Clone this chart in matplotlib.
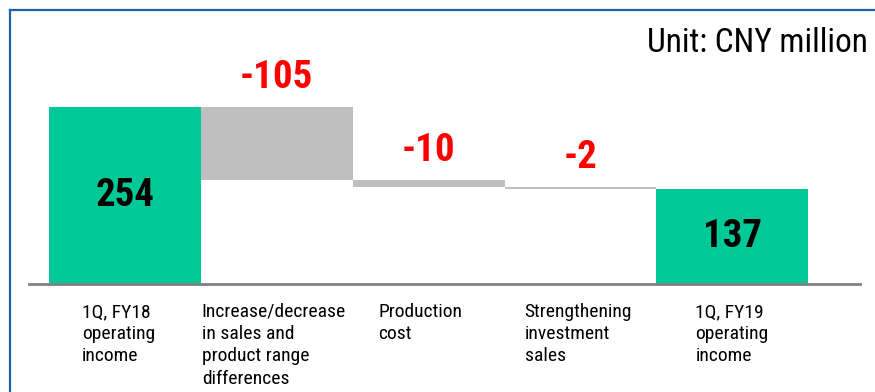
import matplotlib
matplotlib.use("Agg")
import matplotlib.pyplot as plt
from matplotlib.lines import Line2D
import logging
logging.getLogger("matplotlib.font_manager").setLevel(logging.ERROR)

categories = ["1Q, FY18\noperating\nincome",
              "Increase/decrease\nin sales and\nproduct range\ndifferences",
              "Production\ncost",
              "Strengthening\ninvestment\nsales",
              "1Q, FY19\noperating\nincome"]
values = [254, -105, -10, -2, 137]
is_total = [True, False, False, False, True]
value_labels = ["254", "-105", "-10", "-2", "137"]
unit_text = "Unit: CNY million"

FONT = ["Roboto Condensed", "Archivo Narrow", "Asap Condensed", "DejaVu Sans"]

GREEN = "#00C896"
GRAY = "#BFBFBF"
RED = "#FF0000"
BLUE = "#2260A8"

W, H = 875, 392
fig = plt.figure(figsize=(W / 100, H / 100), dpi=100)
ax = fig.add_axes([29 / W, (H - 284) / H, (860 - 29) / W, (284 - 10) / H])

running = 0
bottoms, heights = [], []
for v, tot in zip(values, is_total):
    if tot:
        bottoms.append(0)
        heights.append(v)
        running = v
    else:
        new = running + v
        bottoms.append(new)
        heights.append(-v)
        running = new

x = list(range(len(values)))
colors = [GREEN if t else GRAY for t in is_total]
ax.bar(x, heights, bottom=bottoms, width=1.0, color=colors, linewidth=0)

ax.set_xlim(-0.63, 4.84)
ax.set_ylim(0, 254 * 274 / 177)

for i, (b, h, t, lab) in enumerate(zip(bottoms, heights, is_total, value_labels)):
    if t:
        ax.text(i, b + h / 2, lab, ha="center", va="center", fontsize=28,
                fontweight="bold", color="black", family=FONT)
    else:
        ax.annotate(lab, xy=(i, b + h), xytext=(0, 30), textcoords="offset pixels",
                    ha="center", va="center", fontsize=28, fontweight="bold",
                    color=RED, family=FONT)

label_dx = [33, 1, 26, 20, 39]
for i, (lab, dx) in enumerate(zip(categories, label_dx)):
    ax.annotate(lab, xy=(i - 0.5, 0), xytext=(dx, -19), textcoords="offset pixels",
                ha="left", va="top", fontsize=14, color="black", family=FONT,
                linespacing=1.3)

for s in ["top", "right", "left"]:
    ax.spines[s].set_visible(False)
ax.spines["bottom"].set_color("#808080")
ax.spines["bottom"].set_linewidth(2)
ax.set_xticks([])
ax.set_yticks([])
ax.patch.set_alpha(0)

fig.text(868 / W, 1 - 43 / H, unit_text, ha="right", va="center", fontsize=24,
         color="black", family=FONT)

fig.add_artist(Line2D([10 / W, 1.0], [1 - 10 / H, 1 - 10 / H], color=BLUE, lw=1.6,
                      transform=fig.transFigure))
fig.add_artist(Line2D([10 / W, 10 / W], [0, 1 - 10 / H], color=BLUE, lw=1.6,
                      transform=fig.transFigure))

fig.savefig("out.png", dpi=100)
